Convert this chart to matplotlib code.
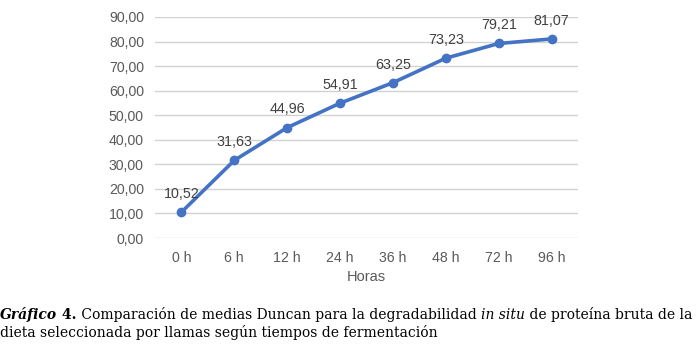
import matplotlib
matplotlib.use("Agg")
import matplotlib.pyplot as plt

categories = ["0 h", "6 h", "12 h", "24 h", "36 h", "48 h", "72 h", "96 h"]
values = [10.52, 31.63, 44.96, 54.91, 63.25, 73.23, 79.21, 81.07]
labels = ["10,52", "31,63", "44,96", "54,91", "63,25", "73,23", "79,21", "81,07"]
yticks = [0, 10, 20, 30, 40, 50, 60, 70, 80, 90]
ytick_labels = ["0,00", "10,00", "20,00", "30,00", "40,00", "50,00", "60,00", "70,00", "80,00", "90,00"]
xlabel = "Horas"
caption1 = [("Gráfico", "bold", "italic"), (" 4.", "bold", "normal"),
            (" Comparación de medias Duncan para la degradabilidad ", "normal", "normal"),
            ("in situ", "normal", "italic"),
            (" de proteína bruta de la", "normal", "normal")]
caption2 = "dieta seleccionada por llamas según tiempos de fermentación"

W, H = 699, 357
fig = plt.figure(figsize=(W/100, H/100), dpi=100)
ax = fig.add_axes([155/W, 1-238/H, (578-155)/W, (238-17)/H])

x = list(range(len(categories)))
ax.plot(x, values, color="#4472C4", lw=2.6, marker="o", ms=6, mfc="#4472C4", mec="#4472C4", zorder=3)
for xi, v, lab in zip(x, values, labels):
    ax.annotate(lab, (xi, v), xytext=(0, 8), textcoords="offset points", ha="center", va="bottom",
                fontsize=10.3, color="#404040", family="Liberation Sans")

ax.set_xlim(-0.5, len(categories)-0.5)
ax.set_ylim(0, 90)
ax.set_yticks(yticks)
ax.set_yticklabels(ytick_labels)
ax.set_xticks(x)
ax.set_xticklabels(categories)
ax.tick_params(length=0, labelsize=10.2, labelcolor="#595959")
for t in ax.get_xticklabels() + ax.get_yticklabels():
    t.set_family("Liberation Sans")
ax.tick_params(axis="y", pad=8)
ax.tick_params(axis="x", pad=9)
ax.grid(axis="y", color="#D0D4D0", lw=1)
ax.set_axisbelow(True)
for s in ax.spines.values():
    s.set_visible(False)
ax.set_xlabel(xlabel, fontsize=10.5, color="#595959", family="Liberation Sans", labelpad=4)

# Caption with mixed styles
fam = "DejaVu Serif"
fs = 10.5
renderer = fig.canvas.get_renderer()
def draw_line(pieces, y, size):
    xpos = 0.0
    arts = []
    for txt, wt, st in pieces:
        t = fig.text(xpos / W, 1 - y / H, txt, fontsize=size, weight=wt, style=st, family=fam,
                     color="black", ha="left", va="baseline")
        bb = t.get_window_extent(renderer)
        xpos += bb.width
        arts.append(t)
    return xpos, arts

width, arts = draw_line(caption1, 319, fs)
for a in arts:
    a.remove()
fs2 = fs * 693 / width
draw_line(caption1, 319, fs2)
draw_line([(caption2, "normal", "normal")], 337, fs2)

fig.savefig("out.png", dpi=100)
